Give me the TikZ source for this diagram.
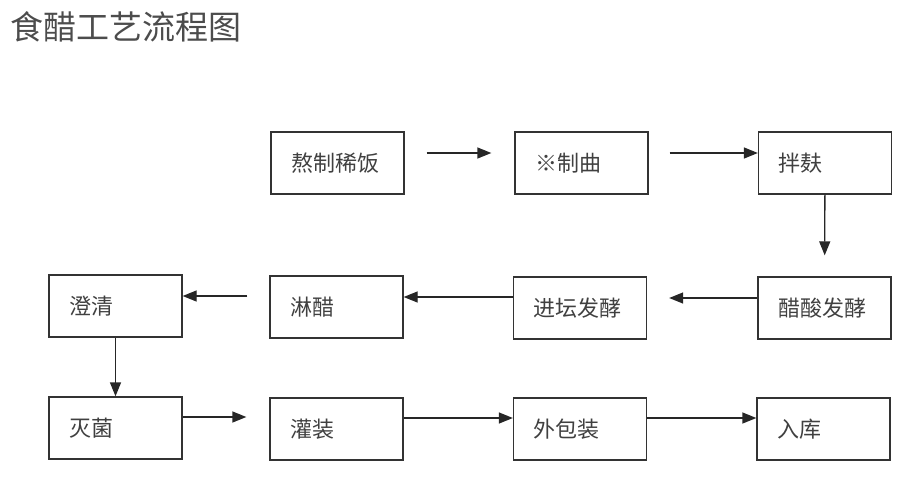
\documentclass[tikz,border=0pt]{standalone}
\usepackage{fontspec}
\newfontfamily\cjk{Noto Sans CJK SC}
\usetikzlibrary{arrows.meta,positioning}

\begin{document}
\begin{tikzpicture}[x=1pt, y=-1pt,
    proc/.style={draw=black!80, line width=1.3pt, minimum height=62pt, text width=93pt, inner xsep=20pt, align=left, font=\cjk\fontsize{22}{26}\selectfont, text=black!75},
    arr/.style={-{Triangle[length=14pt, width=11pt]}, line width=1.3pt, draw=black!85}
]
\useasboundingbox (0,0) rectangle (904,479);
\node[anchor=west, inner sep=0pt, font=\cjk\fontsize{33}{38}\selectfont, text=black!70] (title) at (10,27) {食醋工艺流程图};

\node[proc] (zhufan) at (337.5,163) {熬制稀饭};
\node[proc] (zhiqu) at (581.5,163) {※制曲};
\node[proc] (banfu) at (825,163) {拌麸};
\node[proc] (cusuan) at (824.5,308) {醋酸发酵};
\node[proc] (jintan) at (580,308) {进坛发酵};
\node[proc] (linCu) at (336.5,307) {淋醋};
\node[proc] (chengqing) at (115.5,306) {澄清};
\node[proc] (miejun) at (115.5,428) {灭菌};
\node[proc] (guanzhuang) at (336.5,429) {灌装};
\node[proc] (baozhuang) at (580,429) {外包装};
\node[proc] (ruku) at (823.5,429) {入库};

\draw[arr, shorten <=22pt, shorten >=23pt] ([yshift=10pt]zhufan.east) -- ([yshift=10pt]zhiqu.west);
\draw[arr, shorten <=21pt] ([yshift=10pt]zhiqu.east) -- ([yshift=10pt]banfu.west);
\draw[arr, shorten >=21pt] (banfu) -- (cusuan);
\draw[arr, shorten >=22pt] ([yshift=10pt]cusuan.west) -- ([yshift=10pt]jintan.east);
\draw[arr] ([yshift=11pt]jintan.west) -- ([yshift=11pt]jintan.west -| linCu.east);
\draw[arr, shorten <=22pt] ([yshift=11pt]linCu.west) -- ([yshift=11pt]linCu.west -| chengqing.east);
\draw[arr] (chengqing) -- (miejun);
\draw[arr, shorten >=23pt] ([yshift=11pt]miejun.east) -- ([yshift=11pt]miejun.east -| guanzhuang.west);
\draw[arr] ([yshift=11pt]guanzhuang.east) -- ([yshift=11pt]baozhuang.west);
\draw[arr] ([yshift=11pt]baozhuang.east) -- ([yshift=11pt]ruku.west);
\end{tikzpicture}
\end{document}
